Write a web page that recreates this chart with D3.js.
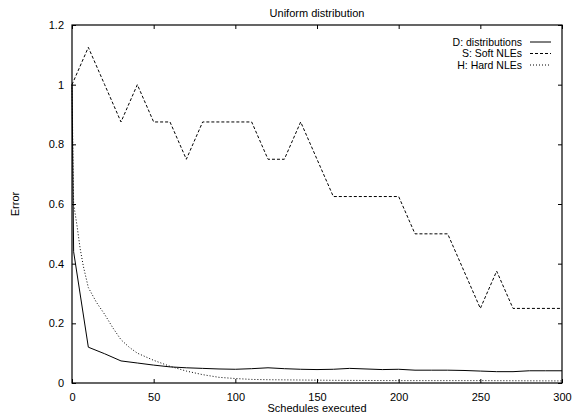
<!DOCTYPE html>
<html>
<head>
<meta charset="utf-8">
<script src="https://cdn.jsdelivr.net/npm/d3@7"></script>
<style>
  html, body { margin: 0; padding: 0; background: #fff; }
  svg { display: block; }
  text { font-family: "Liberation Sans", Arial, Helvetica, sans-serif; font-size: 11px; fill: #000; }
</style>
</head>
<body>
<svg id="chart" width="572" height="417"></svg>
<script>
// ---- data ----
const titleText = "Uniform distribution";
const xLabel = "Schedules executed";
const yLabel = "Error";
const xTicks = [0, 50, 100, 150, 200, 250, 300];
const yTicks = [0, 0.2, 0.4, 0.6, 0.8, 1, 1.2];
const seriesNames = ["D: distributions", "S: Soft NLEs", "H: Hard NLEs"];

const distX = [0, 1, 10, 20, 30, 40, 50, 60, 70, 80, 90, 100, 110, 120, 130, 140, 150, 160, 170, 180, 190, 200, 210, 220, 230, 240, 250, 260, 270, 280, 290, 300];
const distY = [1.0, 0.44, 0.12, 0.098, 0.074, 0.067, 0.06, 0.054, 0.051, 0.049, 0.047, 0.046, 0.048, 0.051, 0.048, 0.046, 0.045, 0.046, 0.049, 0.047, 0.045, 0.046, 0.043, 0.043, 0.043, 0.042, 0.040, 0.038, 0.038, 0.041, 0.041, 0.041];

const softX = [0, 10, 20, 30, 40, 50, 60, 70, 80, 90, 100, 110, 120, 130, 140, 150, 160, 170, 180, 190, 200, 210, 220, 230, 240, 250, 260, 270, 280, 290, 300];
const softY = [1.0, 1.125, 1.0, 0.875, 1.0, 0.875, 0.875, 0.75, 0.875, 0.875, 0.875, 0.875, 0.75, 0.75, 0.875, 0.75, 0.625, 0.625, 0.625, 0.625, 0.625, 0.5, 0.5, 0.5, 0.375, 0.25, 0.375, 0.25, 0.25, 0.25, 0.25];

const hardX = [0, 1, 3, 5, 7, 10, 15, 20, 25, 30, 35, 40, 50, 60, 70, 80, 90, 100, 110, 120, 140, 160, 200, 250, 300];
const hardY = [1.0, 0.6, 0.53, 0.45, 0.39, 0.32, 0.27, 0.23, 0.185, 0.145, 0.12, 0.1, 0.076, 0.056, 0.04, 0.028, 0.019, 0.015, 0.012, 0.011, 0.01, 0.009, 0.008, 0.008, 0.007];

// ---- layout ----
const svg = d3.select("#chart");
const L = 72, R = 562, T = 25, B = 383;
const x = d3.scaleLinear().domain([0, 300]).range([L, R]);
const y = d3.scaleLinear().domain([0, 1.2]).range([B, T]);

// axes with inward ticks
const fmtY = d => d3.format("~g")(d);
const gB = svg.append("g").attr("transform", `translate(0,${B})`)
  .call(d3.axisBottom(x).tickValues(xTicks).tickSizeInner(-4).tickSizeOuter(0).tickPadding(10).tickFormat(d3.format("d")));
const gT = svg.append("g").attr("transform", `translate(0,${T})`)
  .call(d3.axisTop(x).tickValues(xTicks).tickSizeInner(-4).tickSizeOuter(0).tickFormat(""));
const gL = svg.append("g").attr("transform", `translate(${L},0)`)
  .call(d3.axisLeft(y).tickValues(yTicks).tickSizeInner(-4).tickSizeOuter(0).tickPadding(8).tickFormat(fmtY));
const gR = svg.append("g").attr("transform", `translate(${R},0)`)
  .call(d3.axisRight(y).tickValues(yTicks).tickSizeInner(-4).tickSizeOuter(0).tickFormat(""));
[gB, gT, gL, gR].forEach(g => {
  g.select(".domain").remove();
  g.selectAll("line").attr("stroke", "#000").attr("stroke-width", 1);
  g.selectAll("text").attr("font-family", null).attr("font-size", null).style("fill", "#000");
});
gB.selectAll("text").attr("dy", "0.71em");

// frame
svg.append("rect").attr("x", L).attr("y", T).attr("width", R - L).attr("height", B - T)
  .attr("fill", "none").attr("stroke", "#000").attr("stroke-width", 1.2);

// lines
const mk = (xs, ys) => xs.map((v, i) => [v, ys[i]]);
const line = d3.line().x(d => x(d[0])).y(d => y(d[1]));
const series = [
  { data: mk(distX, distY), dash: null },
  { data: mk(softX, softY), dash: "3,2" },
  { data: mk(hardX, hardY), dash: "1,2" }
];
series.forEach(s => {
  svg.append("path").datum(s.data).attr("d", line)
    .attr("fill", "none").attr("stroke", "#000").attr("stroke-width", 1)
    .attr("stroke-dasharray", s.dash);
});

// legend
const legY = [42, 53.5, 65];
series.forEach((s, i) => {
  svg.append("text").attr("x", 522).attr("y", legY[i]).attr("dy", "0.35em")
    .style("font-size", "10.5px")
    .attr("text-anchor", "end").text(seriesNames[i]);
  svg.append("line").attr("x1", 530).attr("x2", 551).attr("y1", legY[i]).attr("y2", legY[i])
    .attr("stroke", "#000").attr("stroke-width", 1).attr("stroke-dasharray", s.dash);
});

// titles
svg.append("text").attr("x", (L + R) / 2).attr("y", 17).attr("text-anchor", "middle").text(titleText);
svg.append("text").attr("x", (L + R) / 2).attr("y", 412).attr("text-anchor", "middle").text(xLabel);
svg.append("text").attr("transform", `translate(19,${(T + B) / 2}) rotate(-90)`)
  .attr("text-anchor", "middle").text(yLabel);
</script>
</body>
</html>
